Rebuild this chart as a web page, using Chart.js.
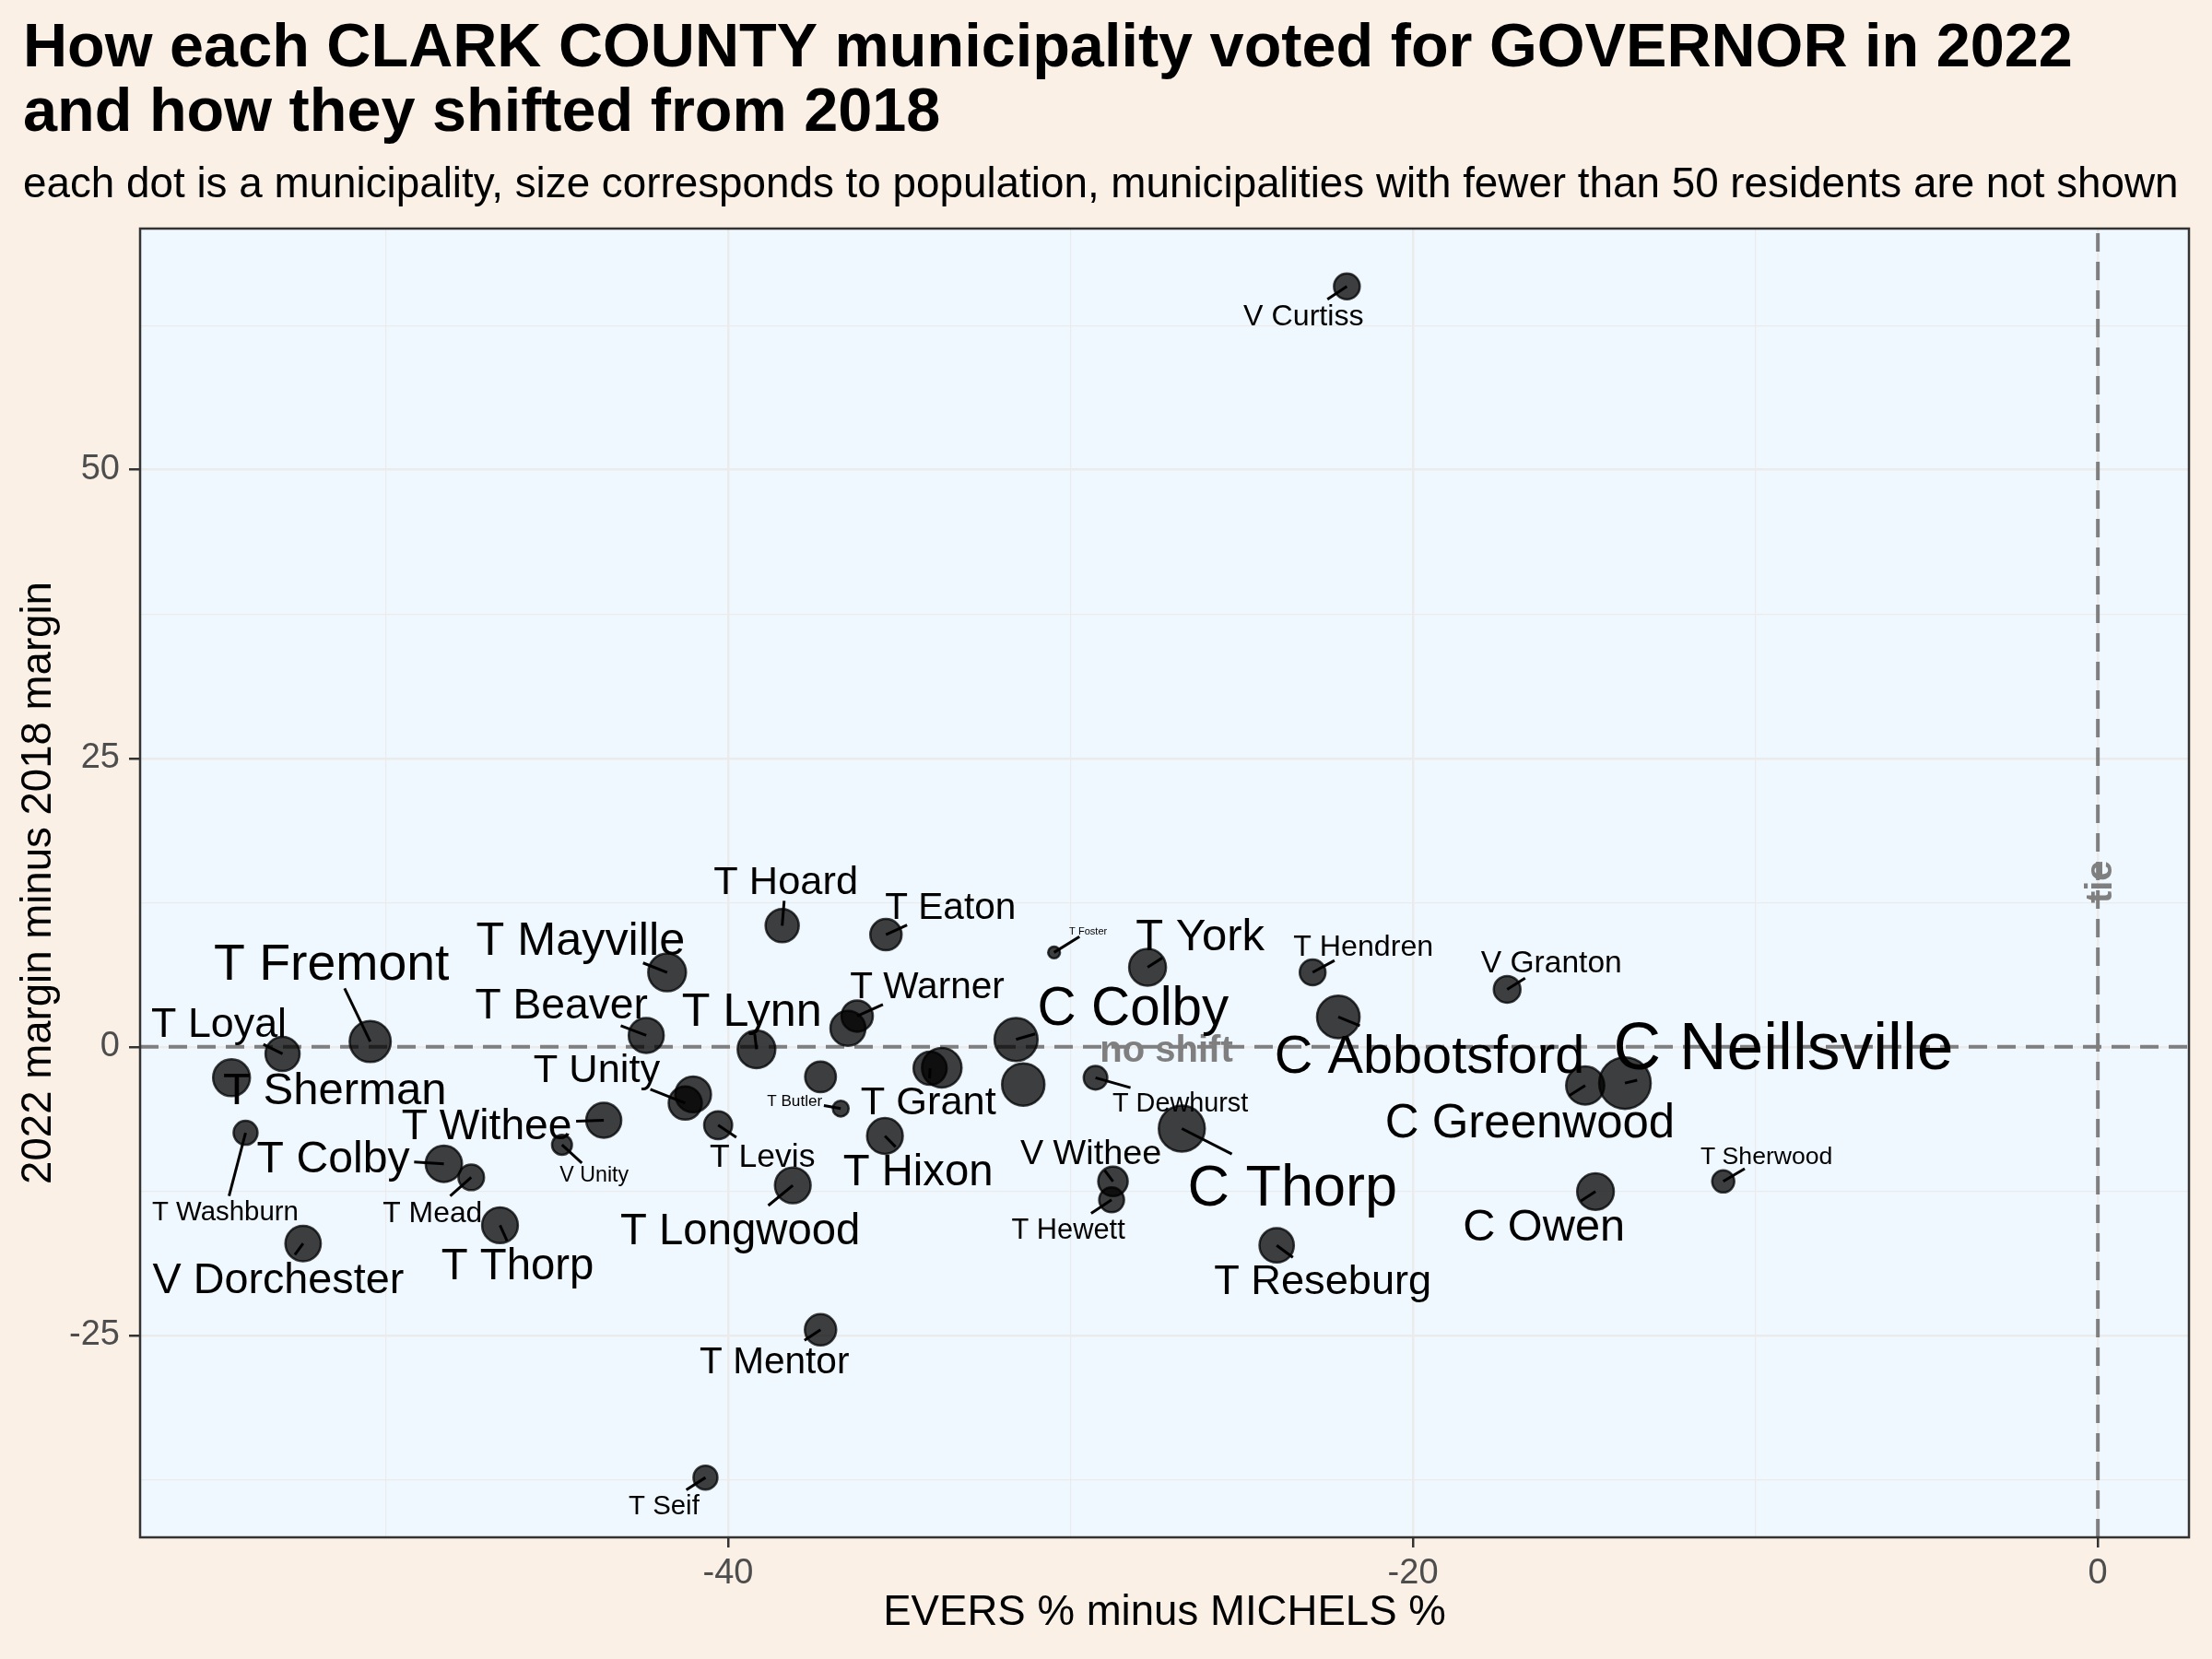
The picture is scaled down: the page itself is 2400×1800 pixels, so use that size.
<!DOCTYPE html>
<html>
<head>
<meta charset="utf-8">
<script src="https://cdn.jsdelivr.net/npm/chart.js@4.4.1/dist/chart.umd.min.js"></script>
<style>
html,body{margin:0;padding:0;background:#FAF0E6;}
canvas{display:block;}
</style>
</head>
<body>
<canvas id="c" width="2400" height="1800"></canvas>
<script>
// ---------------- DATA ----------------
const municipalities = [
  "V Curtiss","T Hoard","T Eaton","T Foster","T York","T Hendren","V Granton","T Mayville",
  "T Fremont","T Loyal","T Sherman","T Beaver","T Lynn","T Warner","","C Colby","",
  "T Grant","","","T Butler","T Dewhurst","T Levis","T Hixon","T Longwood","T Mentor",
  "V Withee","T Hewett","C Thorp","C Abbotsford","C Greenwood","C Neillsville","C Owen",
  "T Reseburg","T Sherwood","T Seif","T Unity","","T Withee","V Unity","T Washburn",
  "V Dorchester","T Colby","T Mead","T Thorp"
];
// EVERS % minus MICHELS % (2022)
const eversMinusMichels = [
  -21.93,-38.42,-35.39,-30.48,-27.75,-22.93,-17.25,-41.78,
  -50.45,-53.01,-54.50,-42.39,-39.17,-36.23,-36.50,-31.59,-31.38,
  -34.10,-33.76,-37.30,-36.71,-29.27,-40.29,-35.42,-38.11,-37.30,
  -28.76,-28.80,-26.75,-22.18,-14.97,-13.81,-14.67,
  -23.98,-10.94,-40.66,-41.25,-41.02,-43.63,-44.85,-54.09,
  -52.41,-48.30,-47.50,-46.66
];
// 2022 margin minus 2018 margin
const marginShift = [
  65.89,10.50,9.72,8.18,6.90,6.45,4.98,6.45,
  0.46,-0.61,-2.68,0.99,-0.21,2.67,1.60,0.64,-3.26,
  -1.86,-1.81,-2.60,-5.35,-2.68,-6.79,-7.72,-12.00,-24.52,
  -11.66,-13.26,-7.08,2.59,-3.35,-3.14,-12.54,
  -17.20,-11.66,-37.32,-4.87,-4.12,-6.36,-8.49,-7.45,
  -17.04,-10.14,-11.31,-15.46
];
// population (estimated from dot and label size)
const population = [
  367,764,650,51,1022,367,408,1093,
  1367,825,1022,888,1087,650,888,1544,1483,
  764,1241,618,84,279,470,940,940,650,
  546,329,1840,1500,1122,2450,1008,
  843,229,293,764,940,888,164,293,
  914,981,359,940
];
const xMajorTicks = [-40, -20, 0];
const xMinorTicks = [-50, -30, -10];
const yMajorTicks = [-25, 0, 25, 50];
const yMinorTicks = [-37.5, -12.5, 12.5, 37.5, 62.5];
const noShiftY = 0;
const tieX = 0;
const titleLines = [
  "How each CLARK COUNTY municipality voted for GOVERNOR in 2022",
  "and how they shifted from 2018"
];
const subtitleText = "each dot is a municipality, size corresponds to population, municipalities with fewer than 50 residents are not shown";

// ---------------- LAYOUT (label placement, px offsets from dot) ----------------
const labelOffsets = [
  [-47,31],[4,-50],[70,-32],[37,-23],[57,-36],[55,-30],[48,-30],[-94,-37],
  [-42,-87],[-69,-34],[112,11],[-92,-35],[-5,-43],[76,-34],null,[127,-37],null,
  [-2,34],null,null,[-50,-9],[92,26],[48,32],[36,37],[-57,47],[-50,33],
  [-24,-32],[-47,31],[120,61],[99,40],[-60,38],[172,-41],[-56,36],
  [50,37],[47,-28],[-45,29],[-96,-38],null,[-127,4],[35,32],[-22,84],
  [-27,37],[-120,-8],[-42,37],[19,42]
];
const noShiftLabelX = -27.2;
const tieLabelY = 14.3;

const FONT = '"Liberation Sans", Arial, Helvetica, sans-serif';
const dotRadius = p => 6 + 22 * Math.sqrt(Math.max(p - 50, 0) / 2400);
const labelSize = r => 2.8 * r - 7;

Chart.defaults.font.family = FONT;

const chartBg = {
  id: 'chartBg',
  beforeDraw(chart) {
    const {ctx, chartArea: a} = chart;
    ctx.save();
    ctx.fillStyle = '#FAF0E6';
    ctx.fillRect(0, 0, chart.width, chart.height);
    ctx.fillStyle = '#F0F8FF';
    ctx.fillRect(a.left, a.top, a.right - a.left, a.bottom - a.top);
    ctx.fillStyle = '#000';
    ctx.textAlign = 'left';
    ctx.textBaseline = 'alphabetic';
    ctx.font = 'bold 66.6px ' + FONT;
    ctx.fillText(titleLines[0], 25, 72);
    ctx.fillText(titleLines[1], 25, 142);
    ctx.font = '45.8px ' + FONT;
    ctx.fillText(subtitleText, 25, 214);
    ctx.restore();
  }
};

const refLines = {
  id: 'refLines',
  beforeDatasetsDraw(chart) {
    const {ctx, chartArea: a, scales: {x, y}} = chart;
    ctx.save();
    ctx.beginPath();
    ctx.rect(a.left, a.top, a.right - a.left, a.bottom - a.top);
    ctx.clip();
    const y0 = y.getPixelForValue(noShiftY);
    const x0 = x.getPixelForValue(tieX);
    ctx.strokeStyle = '#7F7F7F';
    ctx.lineWidth = 4;
    ctx.setLineDash([20, 11]);
    ctx.beginPath(); ctx.moveTo(a.left, y0); ctx.lineTo(a.right, y0); ctx.stroke();
    ctx.beginPath(); ctx.moveTo(x0, a.bottom); ctx.lineTo(x0, a.top); ctx.stroke();
    ctx.setLineDash([]);
    ctx.fillStyle = '#7F7F7F';
    ctx.font = 'bold 40px ' + FONT;
    ctx.textAlign = 'center';
    ctx.textBaseline = 'alphabetic';
    ctx.fillText('no shift', x.getPixelForValue(noShiftLabelX), y0 + 16);
    ctx.translate(x0 + 15, y.getPixelForValue(tieLabelY));
    ctx.rotate(-Math.PI / 2);
    ctx.fillText('tie', 0, 0);
    ctx.restore();
  }
};

const repelLabels = {
  id: 'repelLabels',
  afterDatasetsDraw(chart) {
    const {ctx, scales: {x, y}} = chart;
    ctx.save();
    const items = [];
    municipalities.forEach((name, i) => {
      const off = labelOffsets[i];
      if (!name || !off) return;
      const px = x.getPixelForValue(eversMinusMichels[i]);
      const py = y.getPixelForValue(marginShift[i]);
      const f = labelSize(dotRadius(population[i]));
      ctx.font = f + 'px ' + FONT;
      const w = ctx.measureText(name).width;
      items.push({name, px, py, cx: px + off[0], cy: py + off[1], f, w});
    });
    ctx.strokeStyle = '#000';
    ctx.lineWidth = 3;
    items.forEach(it => {
      const padX = 0.1 * it.f, padY = 0.17 * it.f, hh = 0.36 * it.f;
      const L = it.cx - it.w / 2 - padX, R = it.cx + it.w / 2 + padX;
      const T = it.cy - hh - padY, B = it.cy + hh + padY;
      if (it.px >= L && it.px <= R && it.py >= T && it.py <= B) return;
      const dx = it.cx - it.px, dy = it.cy - it.py;
      let tEnter = 0;
      if (dx !== 0) { const t1 = (L - it.px) / dx, t2 = (R - it.px) / dx; tEnter = Math.max(tEnter, Math.min(t1, t2)); }
      if (dy !== 0) { const t1 = (T - it.py) / dy, t2 = (B - it.py) / dy; tEnter = Math.max(tEnter, Math.min(t1, t2)); }
      const ex = it.px + dx * tEnter, ey = it.py + dy * tEnter;
      if (Math.hypot(ex - it.px, ey - it.py) < 4) return;
      ctx.beginPath(); ctx.moveTo(ex, ey); ctx.lineTo(it.px, it.py); ctx.stroke();
    });
    ctx.fillStyle = '#000';
    ctx.textAlign = 'center';
    ctx.textBaseline = 'alphabetic';
    items.forEach(it => {
      ctx.font = it.f + 'px ' + FONT;
      ctx.fillText(it.name, it.cx, it.cy + 0.358 * it.f);
    });
    ctx.restore();
  }
};

const panelBorder = {
  id: 'panelBorder',
  afterDraw(chart) {
    const {ctx, chartArea: a} = chart;
    ctx.save();
    ctx.strokeStyle = '#333333';
    ctx.lineWidth = 2.5;
    ctx.strokeRect(a.left, a.top, a.right - a.left, a.bottom - a.top);
    ctx.restore();
  }
};

const tickList = (maj, min) => [...maj, ...min].sort((a, b) => a - b).map(v => ({value: v}));

new Chart(document.getElementById('c'), {
  type: 'scatter',
  data: {
    datasets: [{
      data: eversMinusMichels.map((v, i) => ({x: v, y: marginShift[i]})),
      pointRadius: c => dotRadius(population[c.dataIndex]),
      pointBackgroundColor: 'rgba(0,0,0,0.75)',
      pointBorderColor: 'rgba(0,0,0,0.75)',
      pointBorderWidth: 2.5
    }]
  },
  options: {
    responsive: false,
    animation: false,
    devicePixelRatio: 1,
    events: [],
    layout: {autoPadding: false, padding: {top: 248, left: 0, right: 25, bottom: 0}},
    plugins: {legend: {display: false}, tooltip: {enabled: false}, title: {display: false}},
    scales: {
      x: {
        type: 'linear', min: -57.17, max: 2.66,
        afterBuildTicks: ax => { ax.ticks = tickList(xMajorTicks, xMinorTicks); },
        afterFit: ax => { ax.height = 132; ax.paddingLeft = 0; ax.paddingRight = 0; },
        border: {display: false},
        grid: {
          color: '#EBEBEB',
          lineWidth: c => xMajorTicks.includes(c.tick && c.tick.value) ? 2.5 : 1.2,
          tickColor: c => xMajorTicks.includes(c.tick && c.tick.value) ? '#333333' : 'rgba(0,0,0,0)',
          tickLength: 11, tickWidth: 2.5
        },
        ticks: {
          autoSkip: false, maxRotation: 0, padding: 6, color: '#4D4D4D',
          font: {size: 38},
          callback: v => xMajorTicks.includes(v) ? String(v) : ''
        },
        title: {display: true, text: 'EVERS % minus MICHELS %', color: '#000', font: {size: 45.6}, padding: {top: 0, bottom: 22}}
      },
      y: {
        type: 'linear', min: -42.5, max: 70.9,
        afterBuildTicks: ax => { ax.ticks = tickList(yMajorTicks, yMinorTicks); },
        afterFit: ax => { ax.width = 152; ax.paddingTop = 0; ax.paddingBottom = 0; },
        border: {display: false},
        grid: {
          color: '#EBEBEB',
          lineWidth: c => yMajorTicks.includes(c.tick && c.tick.value) ? 2.5 : 1.2,
          tickColor: c => yMajorTicks.includes(c.tick && c.tick.value) ? '#333333' : 'rgba(0,0,0,0)',
          tickLength: 12, tickWidth: 2.5
        },
        ticks: {
          autoSkip: false, padding: 10, color: '#4D4D4D',
          font: {size: 38},
          callback: v => yMajorTicks.includes(v) ? String(v) : ''
        },
        title: {display: true, text: '2022 margin minus 2018 margin', color: '#000', font: {size: 45.6}, padding: {top: 15, bottom: 0}}
      }
    }
  },
  plugins: [chartBg, refLines, repelLabels, panelBorder]
});
</script>
</body>
</html>
